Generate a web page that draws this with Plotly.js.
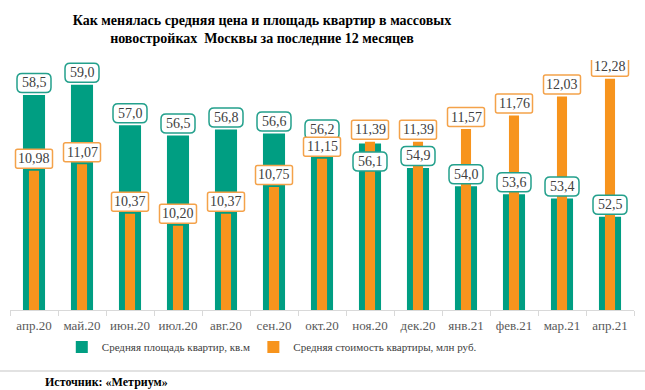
<!DOCTYPE html>
<html>
<head>
<meta charset="utf-8">
<script src="https://cdn.plot.ly/plotly-3.0.1.min.js"></script>
<style>html,body{margin:0;padding:0;background:#fff;}#chart{width:645px;height:390px;}</style>
</head>
<body>
<div id="chart"></div>
<script>
const months = ['апр.20','май.20','июн.20','июл.20','авг.20','сен.20','окт.20','ноя.20','дек.20','янв.21','фев.21','мар.21','апр.21'];
const areaValues = [58.5, 59.0, 57.0, 56.5, 56.8, 56.6, 56.2, 56.1, 54.9, 54.0, 53.6, 53.4, 52.5];
const priceValues = [10.98, 11.07, 10.37, 10.20, 10.37, 10.75, 11.15, 11.39, 11.39, 11.57, 11.76, 12.03, 12.28];
const areaName = 'Средняя площадь квартир, кв.м';
const priceName = 'Средняя стоимость квартиры, млн руб.';

const GREEN = '#009e82';
const ORANGE = '#f7941d';
const GREEN_BORDER = '#23a08c';
const ORANGE_BORDER = '#f4a24a';
const SERIF = "'Liberation Serif', serif";

function fmt(v, d){ return v.toFixed(d).replace('.', ','); }

function roundRect(hw, y0, y1, r){
  const x0 = -hw, x1 = hw;
  return `M ${x0+r},${y0} L ${x1-r},${y0} Q ${x1},${y0} ${x1},${y0+r} L ${x1},${y1-r} Q ${x1},${y1} ${x1-r},${y1} L ${x0+r},${y1} Q ${x0},${y1} ${x0},${y1-r} L ${x0},${y0+r} Q ${x0},${y0} ${x0+r},${y0} Z`;
}

const traces = [
  {type:'bar', name: areaName, x: months, y: areaValues, yaxis:'y', width:0.46,
   marker:{color: GREEN}, hoverinfo:'none', legend:'legend'},
  {type:'bar', name: priceName, x: months, y: priceValues, yaxis:'y2', width:0.21,
   marker:{color: ORANGE}, hoverinfo:'none', legend:'legend2'}
];

const shapes = [];
const annotations = [];
const LIFT = 12;
// label offset (px) above the bar top; the November area label sits inside the bar
const areaLift = months.map(m => m === 'ноя.20' ? -18 : LIFT);
months.forEach((m, i) => {
  const a = areaLift[i];
  shapes.push({type:'path', layer:'above', xref:'x', yref:'y', xsizemode:'pixel', ysizemode:'pixel',
    xanchor: i, yanchor: areaValues[i], path: roundRect(17, a-9.5, a+9.5, 5),
    fillcolor:'#ffffff', line:{color: GREEN_BORDER, width:1.5}});
  shapes.push({type:'path', layer:'above', xref:'x', yref:'y2', xsizemode:'pixel', ysizemode:'pixel',
    xanchor: i, yanchor: priceValues[i], path: roundRect(18.5, LIFT-9.5, LIFT+9.5, 2),
    fillcolor:'#ffffff', line:{color: ORANGE_BORDER, width:1.5}});
  annotations.push({x: m, y: areaValues[i], xref:'x', yref:'y', yshift: a, showarrow:false,
    text: fmt(areaValues[i], 1), font:{family: SERIF, size:14, color:'#404040'}});
  annotations.push({x: m, y: priceValues[i], xref:'x', yref:'y2', yshift: LIFT, showarrow:false,
    text: fmt(priceValues[i], 2), font:{family: SERIF, size:14, color:'#404040'}});
});

// separator line and source note
shapes.push({type:'line', xref:'paper', yref:'paper', x0:-0.02, x1:1.02, y0:-0.244, y1:-0.244,
  line:{color:'#d9d9d9', width:1.5}});
annotations.push({xref:'paper', yref:'paper', x:0.053, y:-0.288, xanchor:'left', yanchor:'middle',
  showarrow:false, text:'<b>Источник: «Метриум»</b>', font:{family: SERIF, size:12, color:'#000000'}});

const legendFont = {family: SERIF, size:11, color:'#404040'};

const layout = {
  width:645, height:390,
  margin:{l:10, r:11, t:60, b:80},
  paper_bgcolor:'#ffffff', plot_bgcolor:'#ffffff',
  barmode:'overlay',
  showlegend:true,
  font:{family: SERIF},
  title:{text:'<b>Как менялась средняя цена и площадь квартир в массовых<br>новостройках  Москвы за последние 12 месяцев</b>',
    x: 262/645, xanchor:'center', xref:'container', y: 1-25/390, yanchor:'top', yref:'container',
    font:{family: SERIF, size:14, color:'#000000'}},
  xaxis:{type:'category', showline:true, linecolor:'#d9d9d9', linewidth:1,
    ticks:'outside', tickson:'boundaries', ticklen:5, tickcolor:'#d9d9d9', tickangle:0,
    ticklabelstandoff:3,
    tickfont:{family: SERIF, size:13, color:'#595959'}, showgrid:false, zeroline:false, fixedrange:true},
  yaxis:{visible:false, range:[47.9, 60.22], showgrid:false, zeroline:false},
  yaxis2:{visible:false, range:[9.01, 12.546], overlaying:'y', side:'right', showgrid:false, zeroline:false},
  legend:{orientation:'h', x:0.083, xanchor:'left', y:-0.148, yanchor:'middle',
    font:legendFont, itemwidth:30, bgcolor:'rgba(0,0,0,0)'},
  legend2:{orientation:'h', x:0.39, xanchor:'left', y:-0.148, yanchor:'middle',
    font:legendFont, itemwidth:30, bgcolor:'rgba(0,0,0,0)'},
  shapes: shapes,
  annotations: annotations
};

Plotly.newPlot('chart', traces, layout, {displayModeBar:false, staticPlot:true});
</script>
</body>
</html>
